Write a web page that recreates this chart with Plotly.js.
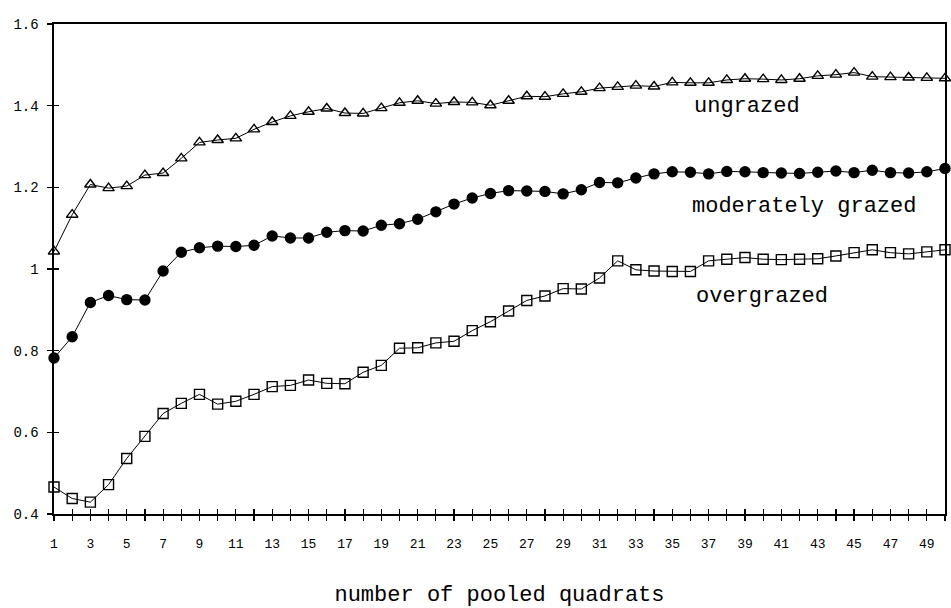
<!DOCTYPE html>
<html>
<head>
<meta charset="utf-8">
<script src="https://cdn.plot.ly/plotly-3.0.1.min.js"></script>
<style>html,body{margin:0;padding:0;background:#fff;}#chart{width:951px;height:608px;}</style>
</head>
<body>
<div id="chart"></div>
<script>
// number of pooled quadrats
const quadrats = [1,2,3,4,5,6,7,8,9,10,11,12,13,14,15,16,17,18,19,20,21,22,23,24,25,
                  26,27,28,29,30,31,32,33,34,35,36,37,38,39,40,41,42,43,44,45,46,47,48,49,50];
const ungrazed = [1.043,1.133,1.207,1.198,1.203,1.230,1.235,1.271,1.310,1.316,1.320,1.342,1.360,1.375,1.385,
                  1.393,1.382,1.381,1.394,1.407,1.412,1.405,1.409,1.408,1.401,1.412,1.423,1.422,1.429,1.434,
                  1.443,1.446,1.449,1.447,1.457,1.456,1.456,1.463,1.466,1.465,1.463,1.466,1.473,1.476,1.481,
                  1.471,1.470,1.469,1.468,1.467];
const moderatelyGrazed = [0.782,0.834,0.918,0.935,0.925,0.924,0.995,1.041,1.052,1.056,1.055,1.058,1.081,1.076,1.076,
                  1.090,1.094,1.093,1.107,1.111,1.122,1.140,1.159,1.174,1.185,1.192,1.191,1.190,1.184,1.194,
                  1.212,1.211,1.223,1.233,1.238,1.237,1.233,1.239,1.238,1.236,1.235,1.234,1.237,1.240,1.236,
                  1.242,1.236,1.235,1.238,1.246];
const overgrazed = [0.466,0.438,0.429,0.472,0.536,0.590,0.646,0.671,0.693,0.669,0.676,0.693,0.712,0.715,0.728,
                  0.720,0.719,0.747,0.764,0.806,0.807,0.819,0.823,0.849,0.871,0.897,0.923,0.934,0.952,0.951,
                  0.978,1.020,0.998,0.995,0.994,0.994,1.020,1.024,1.028,1.024,1.023,1.024,1.025,1.032,1.040,
                  1.047,1.040,1.037,1.042,1.047];
const seriesNames = ['ungrazed','moderately grazed','overgrazed'];
const yTickVals = [0.4,0.6,0.8,1.0,1.2,1.4,1.6];
const yTickText = ['0.4','0.6','0.8','1','1.2','1.4','1.6'];
const xTickText = quadrats.map(v => (v % 2 === 1 ? String(v) : ''));

const FONT = '"Liberation Mono", "DejaVu Sans Mono", monospace';

function line(y, name, symbol, color) {
  return {
    x: quadrats, y: y, name: name, type: 'scatter', mode: 'lines+markers',
    cliponaxis: false,
    line: {color: '#000', width: 1},
    marker: {symbol: symbol, size: 10, color: color, line: {color: '#000', width: 1.4}}
  };
}

const traces = [
  line(ungrazed, seriesNames[0], 'triangle-up-open', '#000'),
  line(moderatelyGrazed, seriesNames[1], 'circle', '#000'),
  line(overgrazed, seriesNames[2], 'square-open', '#000'),
  {x: [], y: [], xaxis: 'x2', yaxis: 'y2', type: 'scatter', mode: 'markers', showlegend: false, hoverinfo: 'skip'}
];

const labelFont = {family: FONT, size: 22, color: '#000'};

const layout = {
  width: 951, height: 608,
  margin: {l: 54, r: 6, t: 24, b: 94},
  paper_bgcolor: '#fff', plot_bgcolor: '#fff',
  showlegend: false,
  font: {family: FONT, color: '#000'},
  xaxis: {
    range: [1, 50], tickmode: 'array', tickvals: quadrats, ticktext: xTickText,
    ticks: 'outside', ticklen: 5, tickwidth: 1.2, tickcolor: '#000',
    showline: true, linecolor: '#000', linewidth: 1.6, mirror: true,
    showgrid: false, zeroline: false,
    tickfont: {family: FONT, size: 13, color: '#000'},
    ticklabelstandoff: 12,
    title: {text: 'number of pooled quadrats', font: labelFont, standoff: 36}
  },
  yaxis: {
    range: [0.4, 1.6], tickmode: 'array', tickvals: yTickVals, ticktext: yTickText,
    ticks: 'outside', ticklen: 5, tickwidth: 1.2, tickcolor: '#000',
    showline: true, linecolor: '#000', linewidth: 1.6, mirror: true,
    showgrid: false, zeroline: false,
    tickfont: {family: FONT, size: 14, color: '#000'},
    ticklabelstandoff: 6
  },
  xaxis2: {
    overlaying: 'x', anchor: 'y2', range: [1, 50], tickmode: 'array', tickvals: quadrats,
    ticks: 'inside', ticklen: 5, tickwidth: 1.2, tickcolor: '#000', showticklabels: false,
    showline: false, showgrid: false, zeroline: false
  },
  yaxis2: {
    overlaying: 'y', anchor: 'x2', range: [0.4, 1.6], tickmode: 'array', tickvals: yTickVals,
    ticks: 'inside', ticklen: 5, tickwidth: 1.2, tickcolor: '#000', showticklabels: false,
    showline: false, showgrid: false, zeroline: false
  },
  annotations: [
    {xref: 'paper', yref: 'paper', x: 0.778, y: 0.832, xanchor: 'center', yanchor: 'middle',
     text: seriesNames[0], showarrow: false, font: labelFont},
    {xref: 'paper', yref: 'paper', x: 0.842, y: 0.627, xanchor: 'center', yanchor: 'middle',
     text: seriesNames[1], showarrow: false, font: labelFont},
    {xref: 'paper', yref: 'paper', x: 0.795, y: 0.444, xanchor: 'center', yanchor: 'middle',
     text: seriesNames[2], showarrow: false, font: labelFont}
  ]
};

Plotly.newPlot('chart', traces, layout, {staticPlot: true, displayModeBar: false});
</script>
</body>
</html>
